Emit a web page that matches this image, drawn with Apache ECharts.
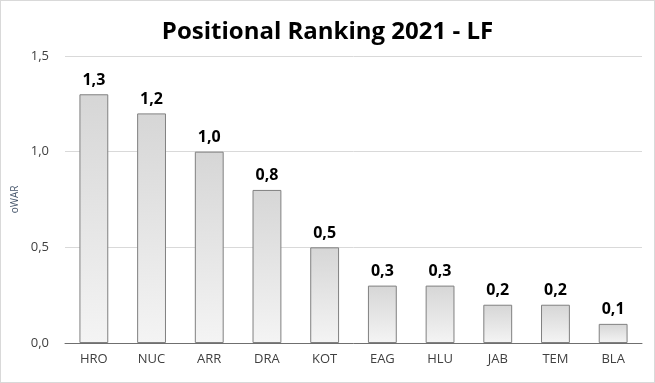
<!DOCTYPE html>
<html><head><meta charset="utf-8">
<script src="https://cdn.jsdelivr.net/npm/echarts@6/dist/echarts.min.js"></script>
<style>html,body{margin:0;padding:0;background:#fff}#c{position:absolute;left:0;top:0;width:653px;height:381px;border:1px solid #d9d9d9}</style>
</head><body><div id="c"></div>
<script>
const categories = ['HRO','NUC','ARR','DRA','KOT','EAG','HLU','JAB','TEM','BLA'];
const values = [1.3,1.2,1.0,0.8,0.5,0.3,0.3,0.2,0.2,0.1];
const yTicks = [0,0.5,1.0,1.5];
const fmt = v => v.toFixed(1).replace('.', ',');
const chart = echarts.init(document.getElementById('c'));
chart.setOption({
  animation:false,
  title:{text:'Positional Ranking 2021 - LF',left:'center',top:14,textStyle:{fontFamily:'Open Sans',fontWeight:'bold',fontSize:24,color:'#000'}},
  grid:{left:64,right:12,top:55,bottom:39,containLabel:false},
  xAxis:{type:'category',data:categories,axisTick:{show:false},axisLine:{lineStyle:{color:'#6f6f6f',width:1}},
    axisLabel:{color:'#404040',fontSize:13,fontFamily:'Open Sans',margin:10}},
  yAxis:{type:'value',min:yTicks[0],max:yTicks[yTicks.length-1],interval:0.5,name:'oWAR',nameLocation:'middle',nameGap:36,
    nameTextStyle:{color:'#44546a',fontSize:10,fontFamily:'Open Sans'},
    axisLabel:{formatter:fmt,color:'#404040',fontSize:13,fontFamily:'Open Sans',margin:16},
    splitLine:{lineStyle:{color:'#d9d9d9'}},axisLine:{show:false},axisTick:{show:false}},
  series:[{type:'bar',data:values,barWidth:'50%',
    itemStyle:{borderColor:'#808080',borderWidth:1,color:new echarts.graphic.LinearGradient(0,0,0,1,[{offset:0,color:'#d6d6d6'},{offset:1,color:'#f4f4f4'}])},
    label:{show:true,position:'top',formatter:p=>fmt(p.value),fontWeight:'bold',fontSize:16,fontFamily:'Open Sans',color:'#000',distance:6}}]
});
</script></body></html>
